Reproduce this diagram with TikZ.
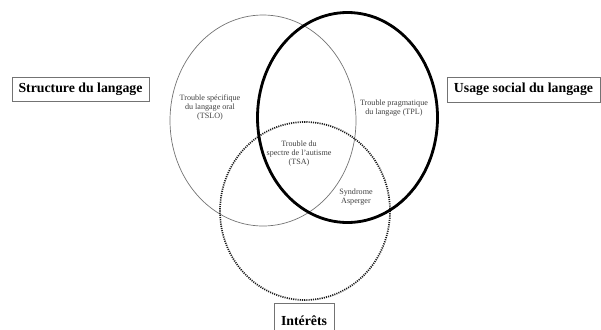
\documentclass[tikz,border=0pt]{standalone}
\usepackage{fontspec}
\setmainfont{Liberation Serif}
\usetikzlibrary{shapes.geometric,decorations.pathmorphing}
\begin{document}
\begin{tikzpicture}[x=1bp,y=-1bp,
  setring/.style={ellipse, inner sep=0pt, outer sep=0pt},
  thinring/.style={setring, draw=black!55, line width=0.7bp},
  dotring/.style={setring, draw=black!90, line width=1.7bp, dash pattern=on 1.1bp off 1.1bp},
  boldring/.style={setring, draw=black, line width=2.8bp},
  labelbox/.style={draw=black!55, line width=0.8bp, inner sep=0pt, font=\fontsize{13.8bp}{15bp}\selectfont\bfseries, text=black},
  settext/.style={align=center, inner sep=0pt, text=black!75, font=\fontsize{8.1bp}{9bp}\selectfont}
]
\useasboundingbox (0,0) rectangle (601,329);
% sets
\node[thinring, minimum width=186bp, minimum height=211bp] (tslo) at (263,120.5) {};
\node[dotring, minimum width=170bp, minimum height=178bp] (tsa) at (305,211) {};
\node[boldring, minimum width=180bp, minimum height=210bp] (tpl) at (347.5,117.5) {};
\draw[black, line width=1bp, decorate, decoration={random steps, segment length=1.6bp, amplitude=0.7bp}]
  (tpl.center) ellipse [x radius=90, y radius=105];
% labels inside
\node[settext] (tslotxt) at (210,108) {Trouble spécifique\\du langage oral\\(TSLO)};
\node[settext] (tpltxt) at (394,108.5) {Trouble pragmatique\\du langage (TPL)};
\node[settext] (tsatxt) at (299,153.5) {Trouble du\\spectre de l’autisme\\(TSA)};
\node[settext] (aspergertxt) at (356,197.5) {Syndrome\\Asperger};
% boxes
\node[labelbox, minimum width=137bp, minimum height=24bp] (structure) at (80.5,89) {Structure du langage};
\node[labelbox, minimum width=153bp, minimum height=25bp] (usage) at (523.5,89.5) {Usage social du langage};
\node[labelbox, minimum width=60bp, minimum height=35bp] (interets) at (304,320.5) {Intérêts};
\end{tikzpicture}
\end{document}
